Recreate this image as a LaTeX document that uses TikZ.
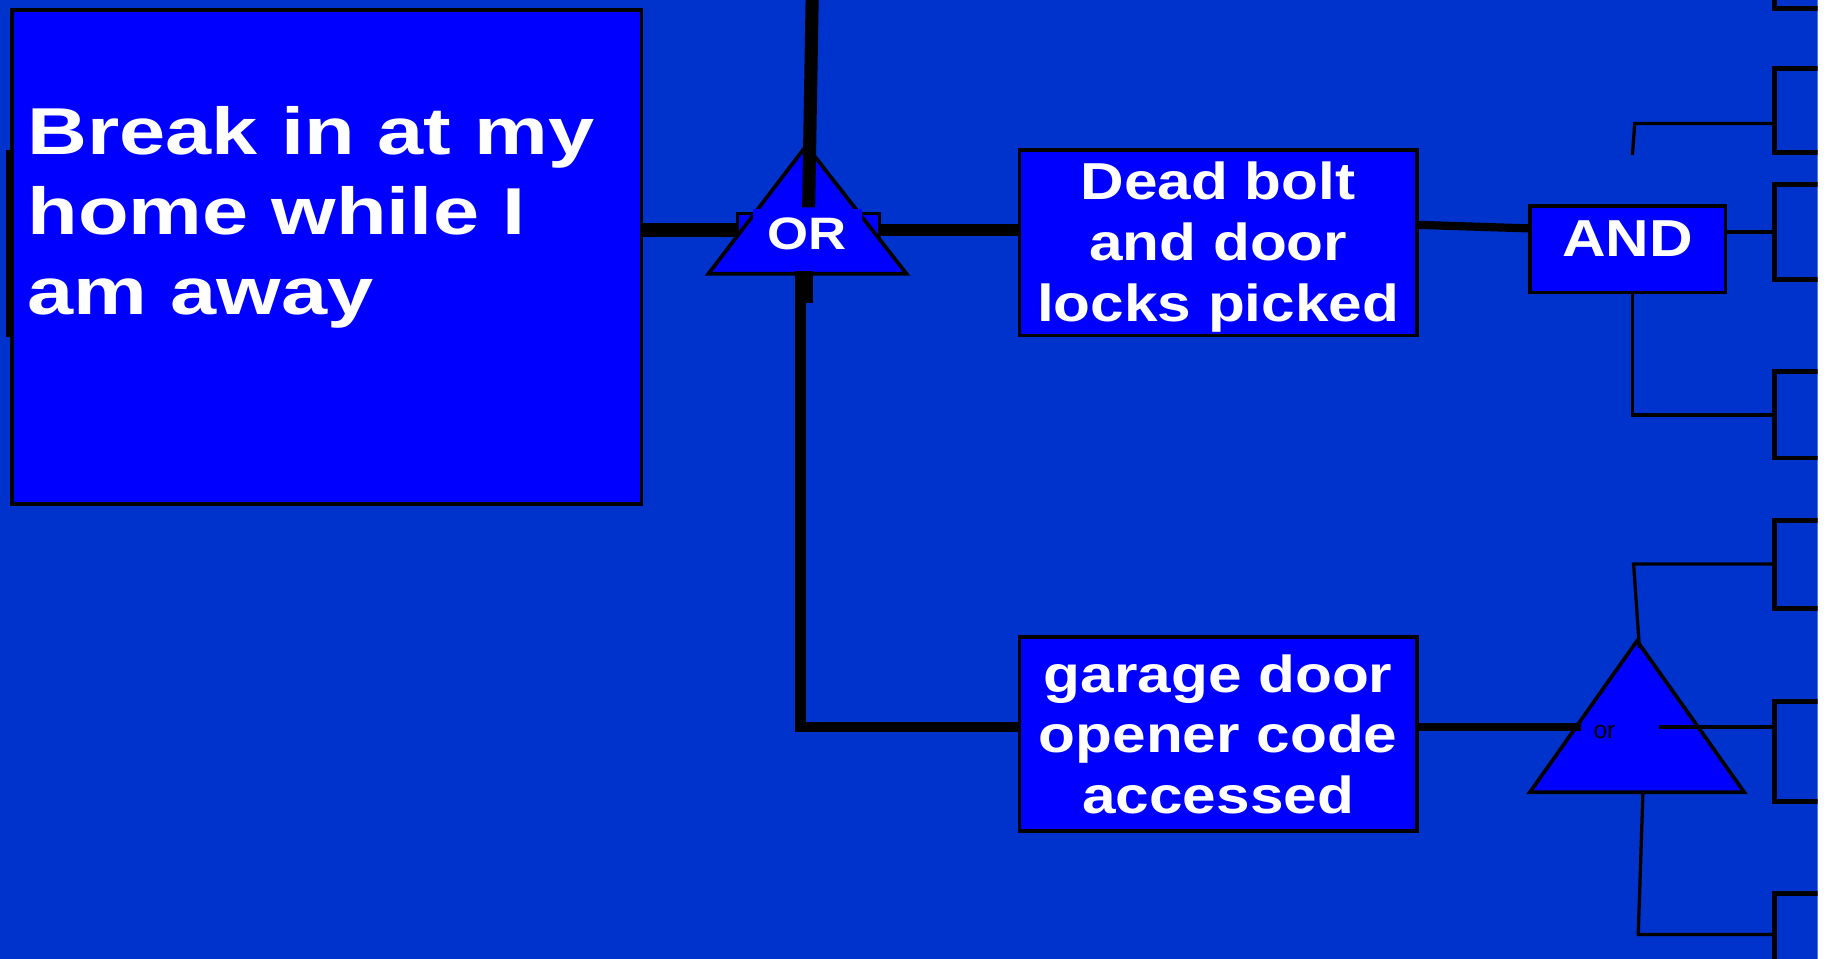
\documentclass[tikz,border=0pt]{standalone}
\usepackage{fontspec}
\setmainfont{Liberation Sans}[FakeStretch=1.16]
\newfontfamily\bigfont{Liberation Sans}[FakeStretch=1.25]
\newfontfamily\plainfont{Liberation Sans}
\usepackage{tikz}
\usepackage{xcolor}
\definecolor{slide}{RGB}{0,51,204}
\definecolor{boxblue}{RGB}{0,0,255}

\begin{document}
\begin{tikzpicture}[
    x=0.1mm, y=-0.1mm,
    event/.style={draw=black, line width=0.9pt, fill=boxblue, text=white, align=center,
        inner sep=0pt, font=\bfseries\fontsize{12.7}{14.8}\selectfont},
    gate/.style={draw=black, line width=0.9pt, fill=boxblue},
    leaf/.style={draw=black, line width=1.2pt, anchor=north west, inner sep=0pt, minimum width=10mm},
    thin line/.style={line width=0.8pt}
]
    \useasboundingbox (0,0) rectangle (1568,823);
    \fill[white] (1560,0) rectangle (1568,823);
    \begin{scope}
    \clip (0,0) rectangle (1560,823);
    \fill[slide] (0,0) rectangle (1560,823);

    % Top event
    \node[event, anchor=north west, minimum width=54mm, minimum height=42.4mm] (goal) at (9,7) {};
    \node[anchor=north west, align=left, text=white, inner sep=0pt,
        font=\bigfont\bfseries\fontsize{16.2}{19.5}\selectfont] (goaltext) at (23,91)
        {Break in at my\\home while I\\am away};
    \draw[line width=1.2pt] (7.5,129) -- (7.5,289);

    % OR gate below the top event
    \node[draw=black, thin line, fill=boxblue, minimum width=12.2mm, minimum height=2.9mm, inner sep=0pt]
        (orbox) at (694,197.5) {};
    \draw[gate] (692,125) -- (778,235) -- (608,235) -- cycle;
    \coordinate (top) at (697,0);
    \draw[line width=3.2pt] (top) -- (694,178);
    \node[fill=boxblue, text=white, inner sep=0pt, minimum width=9.3mm, minimum height=4.4mm,
        font=\bfseries\fontsize{11.1}{13}\selectfont] (or) at (693,201) {OR};
    \draw[line width=3.4pt] (goal.east |- orbox.west) -- (orbox.west);

    % Sub-events
    \node[event, minimum width=34.1mm, minimum height=15.9mm] (deadbolt) at (1045.5,208.5) {};
    \node[text=white, align=center, inner sep=0pt, font=\bfseries\fontsize{12.7}{14.8}\selectfont]
        (deadbolttext) at (1045.5,212) {Dead bolt\\and door\\locks picked};
    \node[event, minimum width=34.1mm, minimum height=16.6mm] (garage) at (1045.5,630)
        {garage door\\opener code\\accessed};
    \draw[line width=2.8pt] (orbox.east) -- (orbox.east -| deadbolt.west);
    \coordinate (orbase) at (690,233);
    \draw[line width=4.5pt] (orbase) -- ++(0,27);
    \draw[line width=2.6pt] (687,235) |- ([yshift=0.6mm]garage.west);

    % AND gate
    \node[event, minimum width=16.8mm, minimum height=7.4mm, text height=3.2mm, text depth=2mm]
        (and) at (1397,214) {AND};
    \draw[line width=2pt] ([yshift=1.55mm]deadbolt.east) -- ([yshift=1.8mm]and.west);

    % Leaves
    \node[leaf, minimum height=6.5mm] (leaf1) at (1521,-60) {};
    \node[leaf, minimum height=7.2mm] (leaf2) at (1521,57) {};
    \node[leaf, minimum height=8.2mm] (leaf3) at (1521,156) {};
    \node[leaf, minimum height=7.4mm] (leaf4) at (1521,317) {};
    \node[leaf, minimum height=7.5mm] (leaf5) at (1521,445) {};
    \node[leaf, minimum height=8.6mm] (leaf6) at (1521,600) {};
    \node[leaf, minimum height=10mm] (leaf7) at (1521,765) {};

    \coordinate (andup) at (1403,106);
    \draw[thin line] (1401,133) -- (andup) -- (andup -| leaf2.west);
    \draw[thin line] (leaf3.west -| and.east) -- (leaf3.west);
    \draw[thin line] ([xshift=0.4mm]and.south) |- (leaf4.west);

    % small or gate
    \draw[gate] (1405,550) -- (1497,680) -- (1313,680) -- cycle;
    \node[font=\plainfont\fontsize{6}{7}\selectfont, inner sep=0pt] (or2) at (1377,628) {or};
    \coordinate (orin) at (1357,624);
    \coordinate (orout) at (1424,624);
    \coordinate (orhigh) at (1402,484);
    \coordinate (orlow) at (1406,802);
    \draw[line width=1.9pt] ([yshift=0.6mm]garage.east) -- (orin);
    \draw[thin line] (1407,556) -- (orhigh) -- (orhigh -| leaf5.west);
    \draw[thin line] (orout) -- (orout -| leaf6.west);
    \draw[thin line] (1410,681) -- (orlow) -- (orlow -| leaf7.west);
    \end{scope}
\end{tikzpicture}
\end{document}
